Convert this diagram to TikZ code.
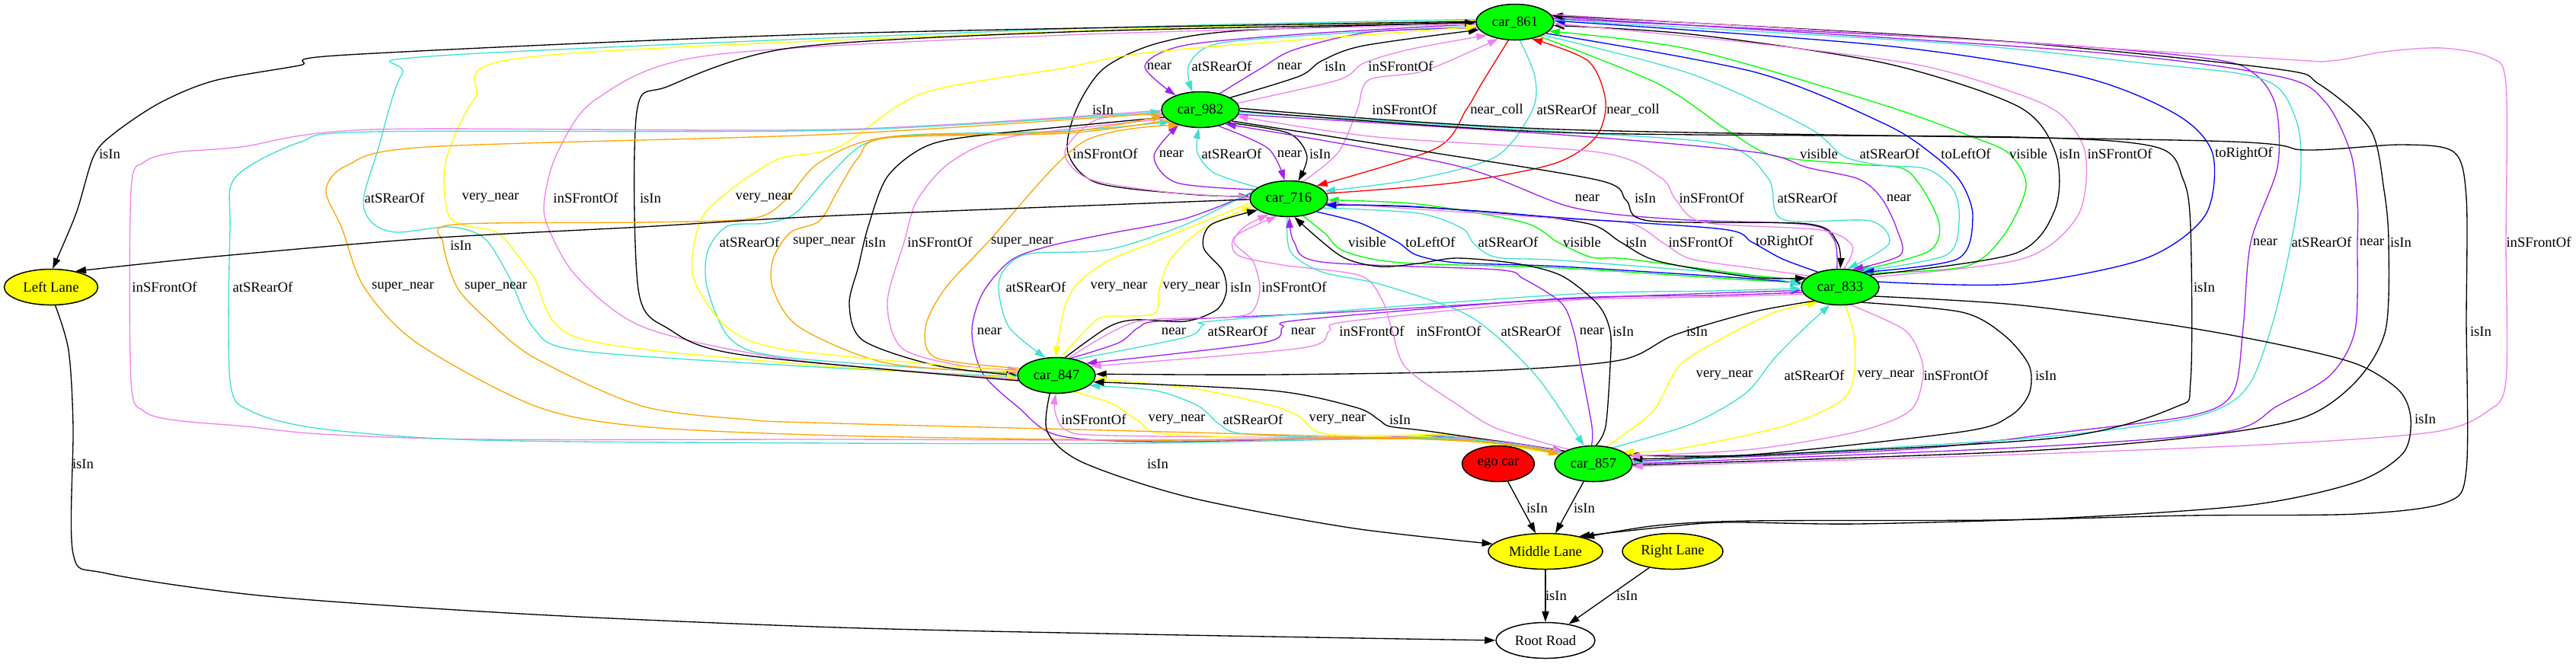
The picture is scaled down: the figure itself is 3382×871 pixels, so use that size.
\documentclass[tikz,border=0pt]{standalone}
\usepackage{fontspec}
\setmainfont{Liberation Serif}
\usetikzlibrary{shapes.geometric,arrows.meta,backgrounds}

\definecolor{gvgreen}{HTML}{00FF00}
\definecolor{gvyellow}{HTML}{FFFF00}
\definecolor{gvred}{HTML}{FF0000}
\definecolor{gvpurple}{HTML}{A020F0}
\definecolor{gvturq}{HTML}{40E0D0}
\definecolor{gvviolet}{HTML}{EE82EE}
\definecolor{gvorange}{HTML}{FFA500}
\definecolor{gvblue}{HTML}{0000FF}

\begin{document}
\begin{tikzpicture}[x=0.3pt,y=-0.3pt,
  font=\fontsize{5.6}{6.7}\selectfont,
  every node/.style={inner sep=0pt},
  obj/.style={ellipse,draw,line width=0.45pt,minimum height=14.1pt},
  car/.style={obj,fill=gvgreen,minimum width=30.6pt},
  lane/.style={obj,fill=gvyellow},
  rel/.style={line width=0.4pt,-{Triangle[length=4.2pt,width=2.8pt]}},
  eisin/.style={rel,draw=black},
  enear/.style={rel,draw=gvpurple},
  eatsr/.style={rel,draw=gvturq},
  einsf/.style={rel,draw=gvviolet},
  evnear/.style={rel,draw=gvyellow},
  esnear/.style={rel,draw=gvorange},
  evis/.style={rel,draw=gvgreen},
  elr/.style={rel,draw=gvblue},
  ecoll/.style={rel,draw=gvred}]

\useasboundingbox (0,0) rectangle (3382,871);

% objects
\node[car] (c861) at (1989,29) {car\_861};
\node[car] (c982) at (1576,144) {car\_982};
\node[car] (c716) at (1692,261) {car\_716};
\node[car] (c833) at (2416,377) {car\_833};
\node[car] (c847) at (1387,493) {car\_847};
\node[car] (c857) at (2092,609) {car\_857};
\node[obj,fill=gvred,minimum width=28.5pt] (ego) at (1967,609) {ego car};
\node[lane,minimum width=36.9pt] (lleft) at (67,377) {Left Lane};
\node[lane,minimum width=45pt] (mlane) at (2029,724) {Middle Lane};
\node[lane,minimum width=39.6pt] (rlane) at (2196,724) {Right Lane};
\node[obj,fill=white,minimum width=39pt] (road) at (2029,841) {Root Road};

\begin{scope}[on background layer]
% car_861 / car_982
\draw[enear] plot[smooth] coordinates {(c861.183) (1706,45) (1553,60) (1503,87) (c982.150)};
\draw[eatsr] plot[smooth] coordinates {(c861.186) (1757,44) (1600,57) (1561,85) (c982.115)};
\draw[enear] plot[smooth] coordinates {(c982.40) (1655,90) (1700,65) (1800,42) (c861.189)};
\draw[eisin] plot[smooth] coordinates {(c982.22) (1706,100) (1735,80) (1790,60) (c861.192)};
\draw[einsf] plot[smooth] coordinates {(c982.10) (1757,105) (1790,83) (1850,65) (c861.205)};
% car_861 / car_716
\draw[eisin] plot[smooth] coordinates {(c861.180) (1631,40) (1519,57) (1449,90) (1413,144) (1402,200) (1440,240) (1560,255) (c716.177)};
\draw[einsf] plot[smooth] coordinates {(c716.50) (1757,200) (1782,144) (1797,105) (1870,93) (c861.225)};
\draw[ecoll] plot[smooth] coordinates {(c861.250) (1945,110) (1925,144) (1885,195) (c716.25)};
\draw[eatsr] plot[smooth] coordinates {(c861.285) (2015,100) (2012,144) (1965,205) (1860,235) (c716.12)};
\draw[ecoll] plot[smooth] coordinates {(c716.8) (1910,240) (2040,215) (2095,180) (2108,133) (2085,80) (c861.315)};
% car_982 / car_716
\draw[einsf] plot[smooth] coordinates {(c982.187) (1440,157) (1398,200) (1430,235) (1530,252) (c716.178)};
\draw[enear] plot[smooth] coordinates {(c716.165) (1545,240) (1515,205) (c982.215)};
\draw[eatsr] plot[smooth] coordinates {(c716.160) (1594,227) (1572,200) (c982.265)};
\draw[enear] plot[smooth] coordinates {(c982.318) (1665,195) (c716.103)};
\draw[eisin] plot[smooth] coordinates {(c982.335) (1692,175) (1716,205) (c716.62)};
% car_861 / car_833
\draw[evis] plot[smooth] coordinates {(c861.330) (2177,110) (2271,173) (2330,205) (2441,216) (2505,225) (2545,290) (2532,330) (c833.42)};
\draw[eatsr] plot[smooth] coordinates {(c861.335) (2220,97) (2373,167) (2420,205) (2470,217) (2530,222) (2565,250) (2572,290) (2555,335) (c833.38)};
\draw[elr] plot[smooth] coordinates {(c861.340) (2305,95) (2475,163) (2540,205) (2575,240) (2590,285) (2570,340) (c833.33)};
\draw[evis] plot[smooth] coordinates {(c833.28) (2580,350) (2630,310) (2660,245) (2638,202) (2590,180) (2470,137) (2220,65) (c861.345)};
\draw[eisin] plot[smooth] coordinates {(c833.22) (2645,333) (2698,275) (2699,202) (2650,140) (2475,83) (2220,45) (c861.355)};
\draw[einsf] plot[smooth] coordinates {(c833.17) (2655,340) (2728,283) (2738,202) (2705,150) (2640,120) (2517,85) (2305,57) (c861.358)};
\draw[elr] plot[smooth] coordinates {(c833.8) (2645,373) (2815,340) (2895,283) (2905,202) (2857,150) (2730,100) (2475,60) (c861.2)};
% car_982 / car_833
\draw[enear] plot[smooth] coordinates {(c833.100) (2408,315) (2373,295) (2200,288) (2063,272) (1910,217) (c982.330)};
\draw[eisin] plot[smooth] coordinates {(c982.340) (1859,197) (2100,237) (2135,263) (2165,290) (2373,294) (2412,318) (c833.90)};
\draw[einsf] plot[smooth] coordinates {(c833.78) (2432,323) (2390,302) (2237,292) (2200,262) (2180,233) (2099,200) (1808,180) (c982.350)};
\draw[eatsr] plot[smooth] coordinates {(c982.356) (2050,173) (2262,190) (2322,235) (2340,288) (2455,290) (2480,320) (c833.68)};
\draw[enear] plot[smooth] coordinates {(c982.353) (2050,177) (2305,200) (2373,220) (2440,235) (2470,260) (2490,300) (2495,335) (c833.55)};
% car_716 / car_833
\draw[evis] plot[smooth] coordinates {(c716.310) (1740,307) (1765,330) (1840,345) (2050,352) (2300,368) (c833.172)};
\draw[elr] plot[smooth] coordinates {(c716.335) (1786,293) (1835,318) (1860,335) (1913,345) (2050,350) (2300,366) (c833.175)};
\draw[eatsr] plot[smooth] coordinates {(c716.345) (1862,280) (1920,300) (1935,320) (1965,338) (2050,342) (2300,362) (c833.178)};
\draw[evis] plot[smooth] coordinates {(c833.168) (2305,362) (2135,340) (2090,338) (2045,318) (2000,292) (1862,268) (c716.358)};
\draw[eisin] plot[smooth] coordinates {(c716.352) (1862,272) (2000,282) (2090,295) (2128,318) (2177,343) (2300,364) (c833.165)};
\draw[einsf] plot[smooth] coordinates {(c833.160) (2300,352) (2220,340) (2185,320) (2140,293) (2050,287) (1850,274) (c716.354)};
\draw[elr] plot[smooth] coordinates {(c833.146) (2340,340) (2300,318) (2262,301) (2050,286) (1850,271) (c716.350)};
% car_861 / car_857
\draw[enear] plot[smooth] coordinates {(c861.5) (2645,55) (2900,77) (2960,97) (2988,140) (2990,220) (2955,318) (2945,430) (2932,515) (2880,545) (2714,567) (2507,590) (c857.4)};
\draw[eatsr] plot[smooth] coordinates {(c861.3) (2560,57) (2815,83) (2942,97) (2993,117) (3018,170) (3020,240) (3008,318) (2985,420) (2956,500) (2921,533) (2852,553) (2645,577) (c857.2)};
\draw[enear] plot[smooth] coordinates {(c857.0) (2645,588) (2921,567) (2990,533) (3059,493) (3092,433) (3095,318) (3095,267) (3086,200) (3052,133) (2990,100) (2730,67) (c861.8)};
\draw[eisin] plot[smooth] coordinates {(c857.358) (2645,593) (2887,573) (3025,548) (3094,500) (3132,433) (3136,318) (3130,250) (3112,170) (3044,110) (2984,90) (2600,52) (c861.10)};
\draw[einsf] plot[smooth] coordinates {(c861.12) (2475,45) (2984,77) (3060,80) (3130,68) (3205,63) (3268,75) (3290,110) (3290,318) (3290,500) (3266,540) (3197,567) (2990,583) (2645,597) (c857.356)};
% car_982 to car_857 and Middle Lane
\draw[eisin] plot[smooth] coordinates {(c982.358) (2050,174) (2645,180) (2830,193) (2866,235) (2876,300) (2876,500) (2855,535) (2700,575) (2300,598) (c857.7)};
\draw[eisin] plot[smooth] coordinates {(c982.2) (2050,170) (2900,185) (3027,197) (3154,190) (3222,200) (3238,260) (3238,420) (3238,617) (3211,660) (3094,675) (2873,677) (2617,683) (2300,684) (2176,690) (mlane.20)};
\draw[eisin] plot[smooth] coordinates {(c833.345) (2645,400) (2852,427) (2990,452) (3094,478) (3150,513) (3165,550) (3155,595) (3094,633) (2956,663) (2714,680) (2438,688) (2264,686) (2176,693) (mlane.24)};
% car_833 / car_857
\draw[eisin] plot[smooth] coordinates {(c833.325) (2576,410) (2631,440) (2664,480) (2664,517) (2638,547) (2576,567) (2300,597) (c857.14)};
\draw[evnear] plot[smooth] coordinates {(c833.285) (2434,440) (2434,495) (2415,528) (2340,560) (2200,590) (c857.22)};
\draw[eatsr] plot[smooth] coordinates {(c857.40) (2220,557) (2291,517) (2330,470) (2370,430) (c833.240)};
\draw[evnear] plot[smooth] coordinates {(c857.52) (2170,540) (2205,480) (2260,445) (2330,410) (c833.215)};
\draw[einsf] plot[smooth] coordinates {(c833.300) (2500,433) (2522,470) (2524,500) (2507,540) (2438,567) (2300,590) (c857.12)};
% car_847 / car_833
\draw[enear] plot[smooth] coordinates {(c847.50) (1469,450) (1495,430) (1530,421) (1760,410) (2050,393) (2250,385) (c833.185)};
\draw[eatsr] plot[smooth] coordinates {(c847.40) (1556,443) (1580,427) (1610,420) (2050,387) (2250,382) (c833.182)};
\draw[enear] plot[smooth] coordinates {(c833.188) (2250,388) (2050,392) (1709,420) (1684,430) (1658,450) (c847.22)};
\draw[einsf] plot[smooth] coordinates {(c833.191) (2250,390) (2050,395) (1770,422) (1745,435) (1709,457) (c847.15)};
\draw[eisin] plot[smooth] coordinates {(c833.208) (2300,410) (2198,440) (2127,473) (1951,487) (1671,492) (c847.2)};
% car_716 / car_857
\draw[enear] plot[smooth] coordinates {(c716.172) (1556,287) (1454,307) (1378,323) (1327,342) (1290,385) (1276,435) (1290,490) (1337,535) (1390,572) (1531,580) (1900,574) (c857.158)};
\draw[einsf] plot[smooth] coordinates {(c857.150) (1966,563) (1916,533) (1846,483) (1828,435) (1815,395) (1786,362) (1684,348) (1625,335) (1622,310) (c716.236)};
\draw[eatsr] plot[smooth] coordinates {(c716.265) (1694,330) (1735,357) (1811,373) (1913,407) (1963,440) (2022,500) (c857.118)};
\draw[enear] plot[smooth] coordinates {(c857.96) (2090,560) (2075,480) (2066,435) (2050,398) (2000,366) (1964,354) (1735,344) (1699,318) (c716.272)};
\draw[eisin] plot[smooth] coordinates {(c857.82) (2108,560) (2114,480) (2114,435) (2098,400) (2050,362) (1990,346) (1913,339) (1862,346) (1811,350) (1760,336) (c716.287)};
% car_847 / car_857
\draw[einsf] plot[smooth] coordinates {(c857.160) (1900,572) (1811,575) (1460,572) (1400,565) (1385,540) (c847.268)};
\draw[evnear] plot[smooth] coordinates {(c847.318) (1460,530) (1495,553) (1531,570) (1741,576) (1900,571) (c857.162)};
\draw[eatsr] plot[smooth] coordinates {(c857.163) (1900,573) (1811,576) (1636,570) (1601,557) (1573,533) (1517,513) (c847.343)};
\draw[evnear] plot[smooth] coordinates {(c857.164) (1881,574) (1741,570) (1706,547) (1671,533) (1566,510) (c847.355)};
\draw[eisin] plot[smooth] coordinates {(c857.156) (1881,567) (1825,560) (1810,551) (1780,535) (1671,513) (c847.350)};
% car_716 / car_847
\draw[eatsr] plot[smooth] coordinates {(c716.168) (1556,295) (1454,328) (1352,333) (1320,352) (1311,380) (1325,430) (c847.122)};
\draw[evnear] plot[smooth] coordinates {(c716.186) (1505,322) (1454,343) (1415,372) (1398,403) (c847.93)};
\draw[evnear] plot[smooth] coordinates {(c847.76) (1429,430) (1450,416) (1515,412) (1522,380) (1537,340) (1580,300) (c716.192)};
\draw[eisin] plot[smooth] coordinates {(c847.64) (1454,430) (1490,420) (1556,422) (1597,407) (1610,383) (1605,355) (1580,325) (1590,295) (c716.200)};
\draw[einsf] plot[smooth] coordinates {(c847.54) (1490,423) (1607,417) (1643,410) (1654,380) (1645,343) (1620,318) (1635,297) (c716.218)};
% car_982 / car_847
\draw[eatsr] plot[smooth] coordinates {(c847.178) (1038,470) (961,447) (929,380) (929,330) (955,297) (1006,293) (1044,280) (1089,230) (1133,190) (1197,177) (1400,172) (c982.202)};
\draw[esnear] plot[smooth] coordinates {(c982.198) (1400,175) (1165,181) (1127,207) (1100,250) (1076,290) (1038,305) (1015,340) (1015,380) (1050,430) (1165,477) (c847.176)};
\draw[eisin] plot[smooth] coordinates {(c982.192) (1293,177) (1216,192) (1165,232) (1140,297) (1127,350) (1115,400) (1133,447) (1229,480) (c847.180)};
\draw[einsf] plot[smooth] coordinates {(c982.195) (1325,180) (1248,213) (1204,263) (1187,318) (1165,397) (1184,457) (1261,480) (c847.172)};
\draw[esnear] plot[smooth] coordinates {(c847.169) (1229,470) (1215,430) (1240,380) (1297,318) (1421,187) (c982.216)};
% car_861 / car_847
\draw[eatsr] plot[smooth] coordinates {(c861.176) (1400,38) (579,73) (528,97) (496,197) (477,263) (489,293) (521,305) (591,298) (636,313) (668,363) (700,430) (757,460) (1038,480) (c847.182)};
\draw[evnear] plot[smooth] coordinates {(c861.178) (1400,41) (693,75) (623,130) (585,213) (588,280) (610,296) (655,307) (700,363) (757,443) (1038,477) (c847.184)};
\draw[einsf] plot[smooth] coordinates {(c847.186) (1038,472) (846,430) (757,363) (719,297) (715,260) (732,200) (783,130) (929,73) (1400,46) (c861.183)};
\draw[eisin] plot[smooth] coordinates {(c847.188) (974,466) (878,432) (838,380) (836,147) (878,113) (1038,63) (1400,42) (c861.181)};
\draw[evnear] plot[smooth] coordinates {(c847.174) (1038,460) (955,430) (910,363) (917,297) (942,263) (1019,210) (1101,193) (1210,123) (1393,90) (1526,67) (c861.187)};
% car_982 / car_857
\draw[einsf] plot[smooth] coordinates {(c982.181) (1100,170) (491,170) (316,193) (231,200) (189,213) (172,250) (172,500) (189,540) (231,552) (323,560) (421,570) (631,577) (1100,577) (1500,578) (1900,575) (c857.159)};
\draw[eatsr] plot[smooth] coordinates {(c857.161) (1900,576) (1500,582) (1100,582) (631,578) (421,563) (330,540) (302,500) (302,300) (309,233) (393,187) (491,173) (1100,171) (c982.183)};
\draw[esnear] plot[smooth] coordinates {(c982.185) (1100,176) (561,193) (456,217) (428,250) (449,300) (478,377) (547,450) (702,533) (842,560) (1100,572) (1500,578) (1900,577) (c857.165)};
\draw[esnear] plot[smooth] coordinates {(c857.166) (1900,578) (1100,556) (982,551) (842,533) (702,470) (640,420) (600,377) (582,320) (595,295) (846,292) (987,287) (1031,263) (1076,213) (1165,180) (1400,173) (c982.189)};
% lanes
\draw[eisin] plot[smooth] coordinates {(c861.179) (1100,44) (456,72) (393,86) (281,106) (210,135) (150,175) (123,205) (100,280) (lleft.85)};
\draw[eisin] plot[smooth] coordinates {(c716.181) (1100,283) (842,298) (561,313) (281,337) (lleft.33)};
\draw[eisin] plot[smooth] coordinates {(lleft.283) (90,460) (96,560) (96,727) (140,753) (351,783) (702,807) (1100,824) (1500,833) (road.180)};
\draw[eisin] plot[smooth] coordinates {(c847.250) (1375,567) (1421,607) (1561,653) (1772,693) (mlane.172)};
\draw[eisin] (ego) -- (mlane);
\draw[eisin] (c857) -- (mlane);
\draw[eisin] (mlane) -- (road);
\draw[eisin] (rlane) -- (road);
\end{scope}

% labels
\node (l01) at (1522,87) {near};
\node (l02) at (1604,87) {atSRearOf};
\node (l03) at (1693,87) {near};
\node (l04) at (1753,87) {isIn};
\node (l05) at (1839,87) {inSFrontOf};
\node (l06) at (1448,144) {isIn};
\node (l07) at (1844,144) {inSFrontOf};
\node (l08) at (1965,144) {near\_coll};
\node (l09) at (2057,144) {atSRearOf};
\node (l10) at (2144,144) {near\_coll};
\node (l11) at (1451,202) {inSFrontOf};
\node (l12) at (1538,202) {near};
\node (l13) at (1617,202) {atSRearOf};
\node (l14) at (1693,202) {near};
\node (l15) at (1733,202) {isIn};
\node (l16) at (2388,202) {visible};
\node (l17) at (2481,202) {atSRearOf};
\node (l18) at (2581,202) {toLeftOf};
\node (l19) at (2663,202) {visible};
\node (l20) at (2717,202) {isIn};
\node (l21) at (2783,202) {inSFrontOf};
\node (l22) at (2946,202) {toRightOf};
\node (l23) at (2084,260) {near};
\node (l24) at (2160,260) {isIn};
\node (l25) at (2247,260) {inSFrontOf};
\node (l26) at (2373,260) {atSRearOf};
\node (l27) at (2493,260) {near};
\node (l28) at (1795,318) {visible};
\node (l29) at (1878,318) {toLeftOf};
\node (l30) at (1980,318) {atSRearOf};
\node (l31) at (2077,318) {visible};
\node (l32) at (2148,318) {isIn};
\node (l33) at (2233,318) {inSFrontOf};
\node (l34) at (2343,318) {toRightOf};
\node (l35) at (2974,318) {near};
\node (l36) at (3048,318) {atSRearOf};
\node (l37) at (3114,318) {near};
\node (l38) at (3152,318) {isIn};
\node (l39) at (3333,318) {inSFrontOf};
\node (l40) at (2894,377) {isIn};
\node (l41) at (3257,435) {isIn};
\node (l42) at (3184,550) {isIn};
\node (l43) at (2686,493) {isIn};
\node (l44) at (2476,493) {very\_near};
\node (l45) at (2382,493) {atSRearOf};
\node (l46) at (2264,493) {very\_near};
\node (l47) at (2568,493) {inSFrontOf};
\node (l48) at (1541,435) {near};
\node (l49) at (1625,435) {atSRearOf};
\node (l50) at (1711,435) {near};
\node (l51) at (1801,435) {inSFrontOf};
\node (l52) at (2228,435) {isIn};
\node (l53) at (1299,435) {near};
\node (l54) at (1902,435) {inSFrontOf};
\node (l55) at (2010,435) {atSRearOf};
\node (l56) at (2090,435) {near};
\node (l57) at (2131,435) {isIn};
\node (l58) at (1436,551) {inSFrontOf};
\node (l59) at (1545,551) {very\_near};
\node (l60) at (1645,551) {atSRearOf};
\node (l61) at (1756,551) {very\_near};
\node (l62) at (1838,551) {isIn};
\node (l63) at (1360,377) {atSRearOf};
\node (l64) at (1469,377) {very\_near};
\node (l65) at (1564,377) {very\_near};
\node (l66) at (1629,377) {isIn};
\node (l67) at (1699,377) {inSFrontOf};
\node (l68) at (984,318) {atSRearOf};
\node (l69) at (1082,318) {super\_near};
\node (l70) at (1149,318) {isIn};
\node (l71) at (1234,318) {inSFrontOf};
\node (l72) at (1342,318) {super\_near};
\node (l73) at (518,260) {atSRearOf};
\node (l74) at (644,260) {very\_near};
\node (l75) at (769,260) {inSFrontOf};
\node (l76) at (854,260) {isIn};
\node (l77) at (1003,260) {very\_near};
\node (l78) at (216,377) {inSFrontOf};
\node (l79) at (345,377) {atSRearOf};
\node (l80) at (529,377) {super\_near};
\node (l81) at (651,377) {super\_near};
\node (l82) at (144,202) {isIn};
\node (l83) at (605,322) {isIn};
\node (l84) at (109,609) {isIn};
\node (l85) at (1520,609) {isIn};
\node (l86) at (2018,667) {isIn};
\node (l87) at (2080,667) {isIn};
\node (l88) at (2043,782) {isIn};
\node (l89) at (2136,782) {isIn};
\end{tikzpicture}
\end{document}
